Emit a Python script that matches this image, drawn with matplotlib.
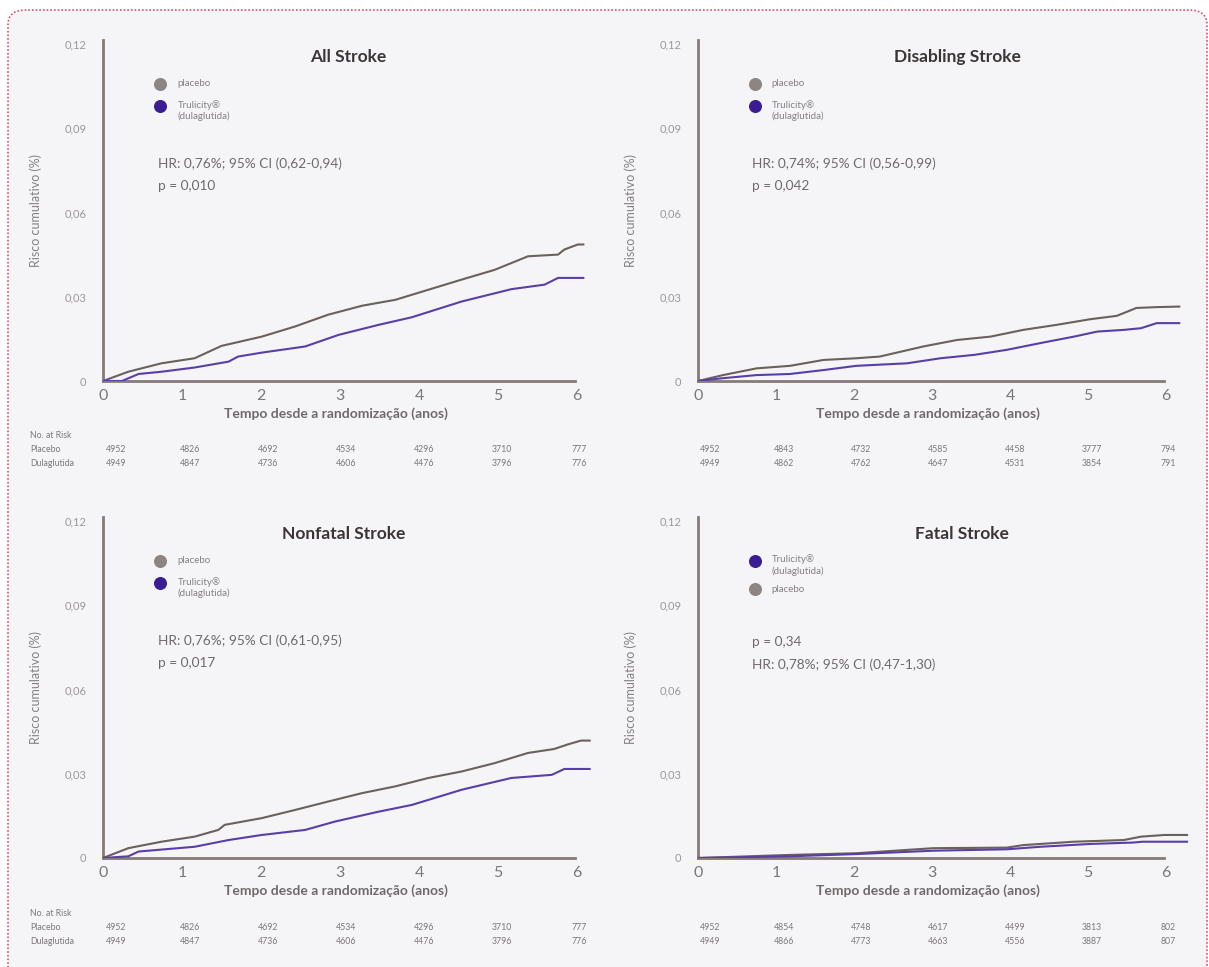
import matplotlib
matplotlib.use("Agg")
import matplotlib.pyplot as plt
from matplotlib.patches import FancyBboxPatch
from matplotlib.transforms import blended_transform_factory

plt.rcParams['font.family'] = ['Lato', 'DejaVu Sans']

# ---------------- data ----------------
yticks = [0, 0.03, 0.06, 0.09, 0.12]
ytick_labels = ["0", "0,03", "0,06", "0,09", "0,12"]
xticks = [0, 1, 2, 3, 4, 5, 6]

# All Stroke
all_pl_x = [0, 0.32, 0.74, 1.16, 1.50, 2.01, 2.43, 2.85, 3.28, 3.70, 4.12, 4.54, 4.96, 5.38, 5.76, 5.84, 6.01, 6.08]
all_pl_y = [0, 0.0033, 0.0063, 0.0081, 0.0125, 0.0158, 0.0194, 0.0236, 0.0268, 0.0289, 0.0325, 0.0361, 0.0396, 0.0444, 0.0450, 0.0468, 0.0486, 0.0486]
all_du_x = [0, 0.24, 0.45, 0.74, 1.16, 1.59, 1.71, 2.01, 2.56, 2.98, 3.49, 3.91, 4.54, 5.17, 5.59, 5.76, 6.08]
all_du_y = [0, 0.0, 0.0025, 0.0033, 0.0048, 0.0069, 0.0087, 0.0101, 0.0123, 0.0164, 0.0200, 0.0227, 0.0283, 0.0327, 0.0343, 0.0367, 0.0367]

# Disabling Stroke
dis_pl_x = [0, 0.32, 0.75, 1.18, 1.61, 2.03, 2.33, 2.89, 3.32, 3.75, 4.17, 4.60, 5.03, 5.37, 5.62, 5.88, 6.17]
dis_pl_y = [0, 0.0021, 0.0045, 0.0054, 0.0075, 0.0081, 0.0087, 0.0123, 0.0146, 0.0158, 0.0182, 0.0200, 0.0220, 0.0232, 0.0260, 0.0263, 0.0265]
dis_du_x = [0, 0.32, 0.75, 1.18, 1.61, 2.03, 2.68, 3.11, 3.54, 3.96, 4.39, 4.82, 5.12, 5.46, 5.68, 5.88, 6.17]
dis_du_y = [0, 0.0010, 0.0021, 0.0025, 0.0039, 0.0054, 0.0063, 0.0081, 0.0093, 0.0111, 0.0135, 0.0158, 0.0176, 0.0182, 0.0188, 0.0206, 0.0206]

# Nonfatal Stroke
nf_pl_x = [0, 0.32, 0.74, 1.16, 1.46, 1.54, 2.01, 2.43, 2.85, 3.28, 3.70, 4.12, 4.54, 4.96, 5.38, 5.71, 5.88, 6.05, 6.16]
nf_pl_y = [0, 0.0035, 0.0058, 0.0076, 0.0100, 0.0118, 0.0142, 0.0171, 0.0201, 0.0231, 0.0255, 0.0285, 0.0308, 0.0338, 0.0374, 0.0388, 0.0404, 0.0418, 0.0418]
nf_du_x = [0, 0.32, 0.45, 1.16, 1.59, 2.01, 2.56, 2.94, 3.49, 3.91, 4.54, 5.17, 5.68, 5.84, 6.16]
nf_du_y = [0, 0.0006, 0.0023, 0.0040, 0.0064, 0.0082, 0.0100, 0.0130, 0.0165, 0.0189, 0.0243, 0.0285, 0.0296, 0.0317, 0.0317]

# Fatal Stroke
fat_pl_x = [0, 1.18, 2.03, 3.02, 3.96, 4.17, 4.82, 5.46, 5.68, 5.98, 6.27]
fat_pl_y = [0, 0.0011, 0.0017, 0.0035, 0.0037, 0.0046, 0.0058, 0.0064, 0.0076, 0.0082, 0.0082]
fat_du_x = [0, 1.18, 2.03, 3.02, 3.96, 4.39, 5.03, 5.58, 5.70, 6.27]
fat_du_y = [0, 0.0006, 0.0014, 0.0026, 0.0031, 0.0040, 0.0050, 0.0055, 0.0058, 0.0058]

# numbers at risk
all_risk_pl = [4952, 4826, 4692, 4534, 4296, 3710, 777]
all_risk_du = [4949, 4847, 4736, 4606, 4476, 3796, 776]
dis_risk_pl = [4952, 4843, 4732, 4585, 4458, 3777, 794]
dis_risk_du = [4949, 4862, 4762, 4647, 4531, 3854, 791]
nf_risk_pl = [4952, 4826, 4692, 4534, 4296, 3710, 777]
nf_risk_du = [4949, 4847, 4736, 4606, 4476, 3796, 776]
fat_risk_pl = [4952, 4854, 4748, 4617, 4499, 3813, 802]
fat_risk_du = [4949, 4866, 4773, 4663, 4556, 3887, 807]

titles = ["All Stroke", "Disabling Stroke", "Nonfatal Stroke", "Fatal Stroke"]
hr_texts = ["HR: 0,76%; 95% CI (0,62-0,94)", "HR: 0,74%; 95% CI (0,56-0,99)",
            "HR: 0,76%; 95% CI (0,61-0,95)", "HR: 0,78%; 95% CI (0,47-1,30)"]
p_texts = ["p = 0,010", "p = 0,042", "p = 0,017", "p = 0,34"]

# ---------------- figure ----------------
W, H = 1209, 967
fig = plt.figure(figsize=(W / 100, H / 100), dpi=100)
fig.patch.set_facecolor("white")

bg = FancyBboxPatch((8 / W, -0.02), (W - 10) / W, 1 - 10 / H + 0.02,
                    boxstyle="round,pad=0,rounding_size=0.015",
                    transform=fig.transFigure, facecolor="#f5f5f8",
                    edgecolor="#e0506a", linestyle=(0, (1, 1.2)), linewidth=1.2,
                    zorder=-10)
fig.patches.append(bg)

PL_LINE = "#6b605d"
DU_LINE = "#5a3ea8"
PL_DOT = "#8c8583"
DU_DOT = "#3a1d92"
TXT = "#6f696b"
TICK = "#9c9698"


def px2fig(x, y):
    return x / W, 1 - y / H


def make_panel(left_px, bottom_px, ppy, pl_x, pl_y, du_x, du_y, title, title_x, hr, p,
               risk_pl, risk_du, legend_order, hr_first, table_rows_y, row_labels):
    xmax = 6.3
    l, b = px2fig(left_px, bottom_px)
    ax = fig.add_axes([l, b, xmax * ppy / W, 341 / H])
    ax.set_facecolor("none")
    ax.set_xlim(0, xmax)
    ax.set_ylim(0, 0.1214)
    for s in ["top", "right"]:
        ax.spines[s].set_visible(False)
    for s in ["left", "bottom"]:
        ax.spines[s].set_color("#857b78")
        ax.spines[s].set_linewidth(2.0)
    ax.spines["bottom"].set_bounds(0, 5.97)
    ax.plot(pl_x, pl_y, color=PL_LINE, lw=1.5, zorder=3)
    ax.plot(du_x, du_y, color=DU_LINE, lw=1.5, zorder=3)
    ax.set_yticks(yticks)
    ax.set_yticklabels(ytick_labels)
    ax.set_xticks(xticks)
    ax.tick_params(axis="y", length=0, pad=12, labelsize=8, labelcolor=TICK)
    ax.tick_params(axis="x", length=0, pad=6, labelsize=11.5, labelcolor="#7c7678")
    ax.set_xlabel("Tempo desde a randomização (anos)", fontsize=10, fontweight="bold",
                  color=TXT, labelpad=3)
    ax.xaxis.set_label_coords(2.95 / xmax, -0.078)
    ax.set_ylabel("Risco cumulativo (%)", fontsize=9, color="#857f81", labelpad=16)
    ax.text(title_x / xmax, 0.95, title, transform=ax.transAxes, ha="center", va="center",
            fontsize=12.5, fontweight="bold", color="#3b3536")

    # legend
    entries = {"pl": ("placebo", PL_DOT), "du": ("Trulicity®\n(dulaglutida)", DU_DOT)}
    ly = 0.872
    for key in legend_order:
        label, col = entries[key]
        ax.scatter([0.115], [ly], s=70, color=col, transform=ax.transAxes, clip_on=False, zorder=5)
        if "\n" in label:
            ax.text(0.15, ly + 0.02, label, transform=ax.transAxes, ha="left", va="top",
                    fontsize=7, color="#857f81", linespacing=1.3)
            ly -= 0.084
        else:
            ax.text(0.15, ly, label, transform=ax.transAxes, ha="left", va="center",
                    fontsize=7, color="#857f81")
            ly -= 0.067

    lines = [hr, p] if hr_first else [p, hr]
    y0 = 0.637 if hr_first else 0.632
    ax.text(0.11, y0, lines[0], transform=ax.transAxes, fontsize=9.8, color=TXT, va="center")
    ax.text(0.11, y0 - 0.066, lines[1], transform=ax.transAxes, fontsize=9.8, color=TXT, va="center")

    # risk table
    tr = blended_transform_factory(ax.transData, fig.transFigure)
    ypl, ydu, yhead = table_rows_y
    for i, (a, c) in enumerate(zip(risk_pl, risk_du)):
        xx = xticks[i] + (0.16 if i == 0 else 0.12 - 0.015 * i)
        ax.text(xx, 1 - ypl / H, str(a), transform=tr, ha="center", va="center",
                fontsize=6.3, color="#7c7678", clip_on=False)
        ax.text(xx, 1 - ydu / H, str(c), transform=tr, ha="center", va="center",
                fontsize=6.3, color="#7c7678", clip_on=False)
    if row_labels:
        for txt, yy in [("No. at Risk", yhead), ("Placebo", ypl), ("Dulaglutida", ydu)]:
            fig.text(30 / W, 1 - yy / H, txt, ha="left", va="center", fontsize=6.3, color="#7c7678")
    return ax


make_panel(103, 381, 79, all_pl_x, all_pl_y, all_du_x, all_du_y, titles[0], 3.1, hr_texts[0], p_texts[0],
           all_risk_pl, all_risk_du, ["pl", "du"], True, (449, 464, 436), True)
make_panel(698, 381, 78, dis_pl_x, dis_pl_y, dis_du_x, dis_du_y, titles[1], 3.33, hr_texts[1], p_texts[1],
           dis_risk_pl, dis_risk_du, ["pl", "du"], True, (449, 464, 436), False)
make_panel(103, 858, 79, nf_pl_x, nf_pl_y, nf_du_x, nf_du_y, titles[2], 3.05, hr_texts[2], p_texts[2],
           nf_risk_pl, nf_risk_du, ["pl", "du"], True, (927, 941, 914), True)
make_panel(698, 858, 78, fat_pl_x, fat_pl_y, fat_du_x, fat_du_y, titles[3], 3.39, hr_texts[3], p_texts[3],
           fat_risk_pl, fat_risk_du, ["du", "pl"], False, (927, 942, 914), False)

fig.savefig("out.png", dpi=100, facecolor=fig.get_facecolor())
